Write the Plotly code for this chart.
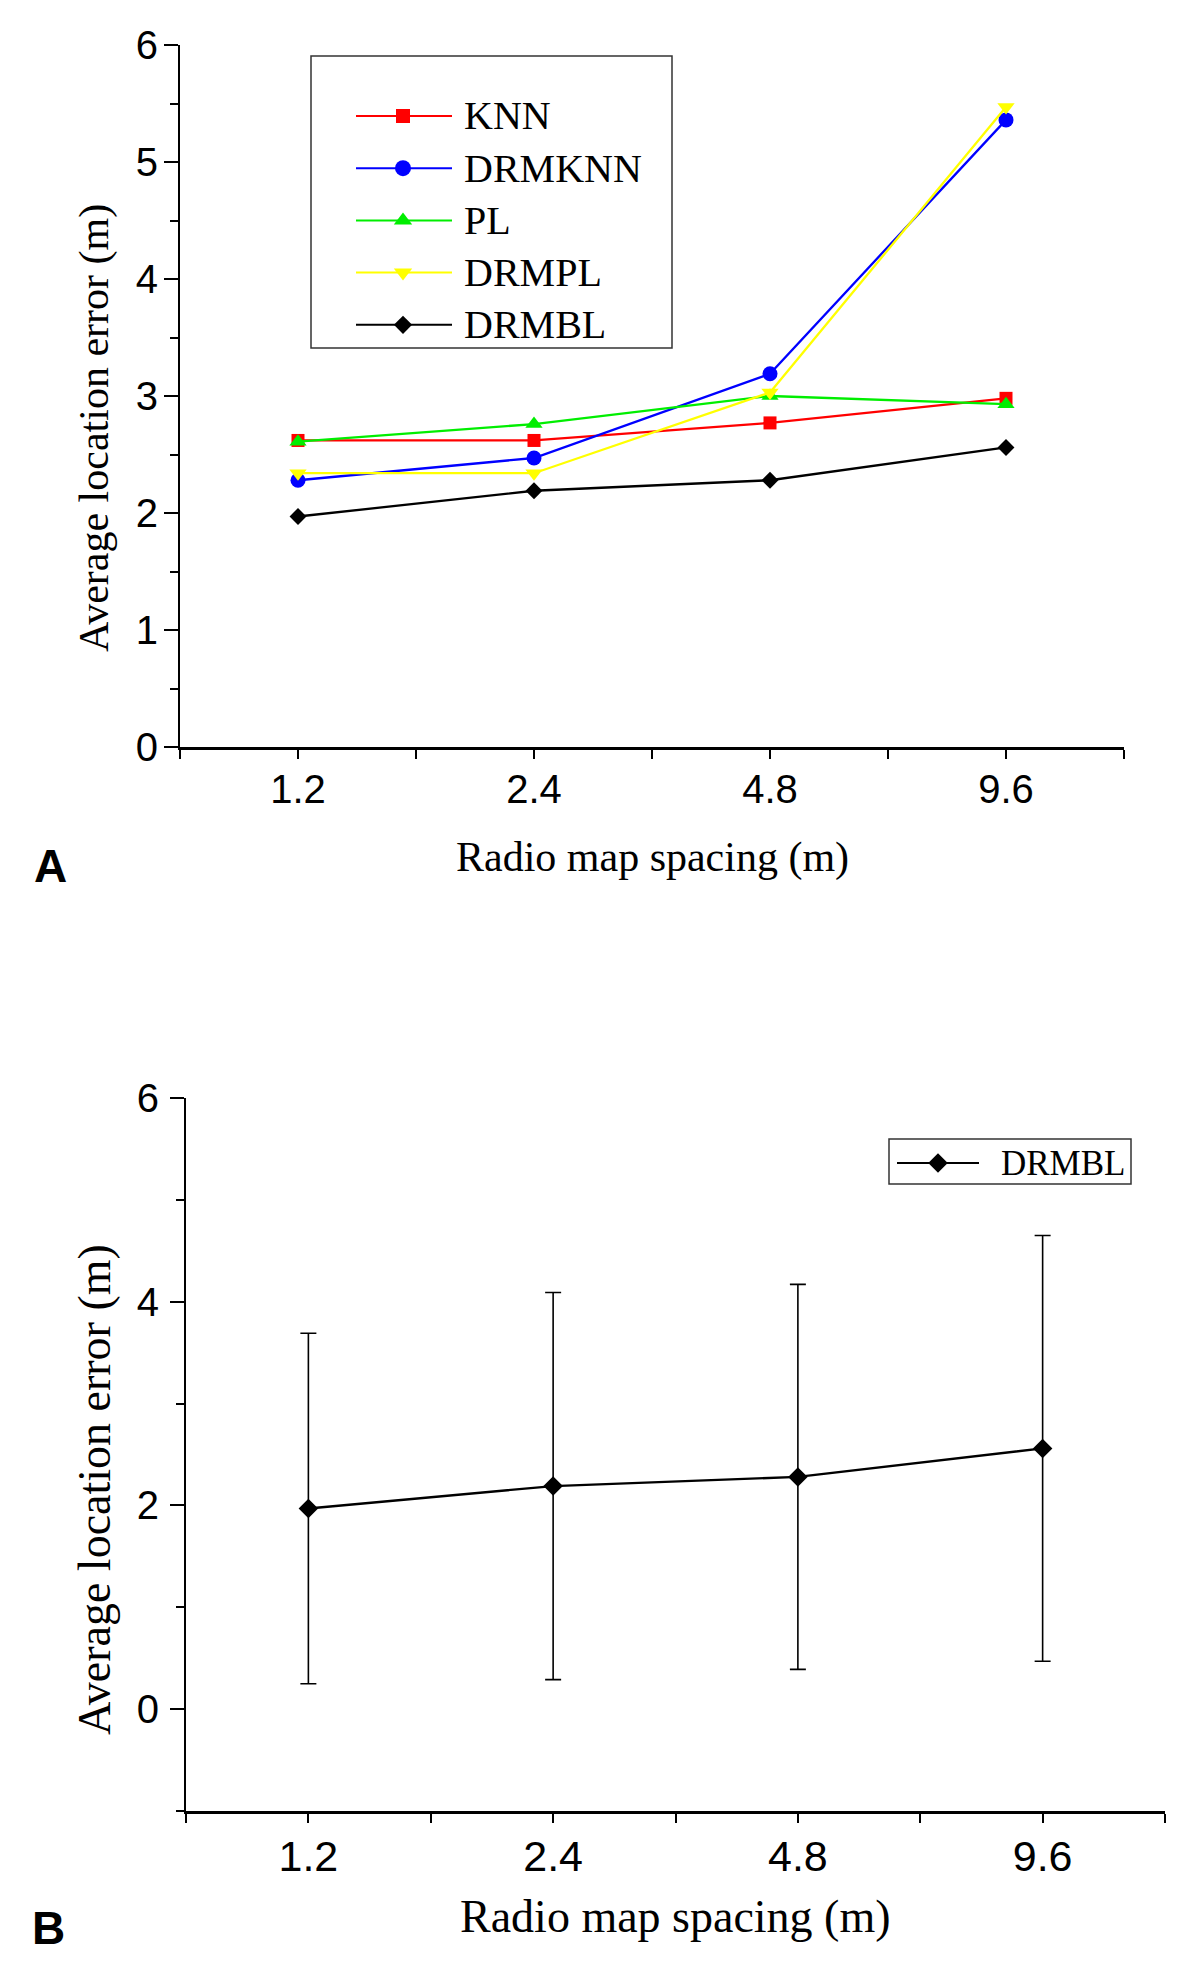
import plotly.graph_objects as go

# ---------------- data ----------------
categories = ["1.2", "2.4", "4.8", "9.6"]
series_names = ["KNN", "DRMKNN", "PL", "DRMPL", "DRMBL"]
knn = [2.62, 2.62, 2.77, 2.98]
drmknn = [2.28, 2.47, 3.19, 5.36]
pl = [2.61, 2.76, 3.00, 2.93]
drmpl = [2.34, 2.34, 3.03, 5.47]
drmbl = [1.97, 2.19, 2.28, 2.56]
drmbl_err = [1.72, 1.90, 1.89, 2.09]
y_ticks_a = [0, 1, 2, 3, 4, 5, 6]
y_ticks_b = [0, 2, 4, 6]

# ---------------- styles ----------------
colors = ["#FF0000", "#0000FF", "#00EE00", "#FFFF00", "#000000"]
symbols = ["square", "circle", "triangle-up", "triangle-down", "diamond"]
msizes = [13, 15, 15, 15, 13]

W, H = 1200, 1987
def px(x):
    return x / W
def py(y):
    return 1 - y / H

SERIF = "Liberation Serif, Times New Roman, serif"
SANS = "Liberation Sans, Arial, sans-serif"

xi = list(range(len(categories)))
values = [knn, drmknn, pl, drmpl, drmbl]

fig = go.Figure()
for name, vals, c, s, ms in zip(series_names, values, colors, symbols, msizes):
    fig.add_trace(go.Scatter(x=xi, y=vals, name=name, mode="lines+markers",
                             line=dict(color=c, width=2.3),
                             marker=dict(symbol=s, size=ms, color=c, line=dict(width=0)),
                             xaxis="x", yaxis="y", showlegend=False, cliponaxis=False))

fig.add_trace(go.Scatter(x=xi, y=drmbl, name="DRMBL", mode="lines+markers",
                         line=dict(color="black", width=2.3),
                         marker=dict(symbol="diamond", size=15, color="black"),
                         error_y=dict(type="data", array=drmbl_err, visible=True,
                                      color="black", thickness=1.6, width=8),
                         xaxis="x2", yaxis="y2", showlegend=False, cliponaxis=False))

def xaxis_style(domain, anchor, fsize):
    return dict(domain=domain, anchor=anchor, range=[-0.5, len(categories) - 0.5],
                tickvals=xi, ticktext=categories, showgrid=False, zeroline=False,
                showline=True, linewidth=3, linecolor="black", automargin=False,
                ticks="outside", ticklen=9, tickwidth=2, tickcolor="black",
                ticklabelstandoff=-4,
                minor=dict(tick0=0.5, dtick=1, ticks="outside", ticklen=9,
                           tickwidth=2, tickcolor="black"),
                tickfont=dict(family=SANS, size=fsize, color="black"))

def yaxis_style(domain, anchor, rng, tickvals, minor_dtick, fsize, standoff):
    return dict(domain=domain, anchor=anchor, range=rng, tickvals=tickvals,
                showgrid=False, zeroline=False, showline=True, linewidth=2,
                linecolor="black", ticks="outside", ticklen=14, tickwidth=2,
                tickcolor="black", ticklabelstandoff=standoff, automargin=False,
                minor=dict(tick0=0, dtick=minor_dtick, ticks="outside", ticklen=8,
                           tickwidth=2, tickcolor="black"),
                tickfont=dict(family=SANS, size=fsize, color="black"))

fig.update_layout(
    width=W, height=H, margin=dict(l=0, r=0, t=0, b=0, autoexpand=False),
    paper_bgcolor="white", plot_bgcolor="white", showlegend=False,
    xaxis=xaxis_style([px(180), px(1124)], "y", 40),
    yaxis=yaxis_style([py(747), py(45)], "x", [0, 6], y_ticks_a, 0.5, 40, -2),
    xaxis2=xaxis_style([px(186), px(1165)], "y2", 43),
    yaxis2=yaxis_style([py(1811), py(1098)], "x2", [-1, 6], y_ticks_b, 1, 40, 3),
)

ann = []
shapes = []
# axis titles and panel letters
ann.append(dict(text="Radio map spacing (m)", x=px(652), y=py(857), xref="paper", yref="paper",
                showarrow=False, xanchor="center", yanchor="middle",
                font=dict(family=SERIF, size=42, color="black")))
ann.append(dict(text="Average location error (m)", x=px(94), y=py(428), xref="paper", yref="paper",
                showarrow=False, xanchor="center", yanchor="middle", textangle=-90,
                font=dict(family=SERIF, size=42, color="black")))
ann.append(dict(text="Radio map spacing (m)", x=px(675), y=py(1916), xref="paper", yref="paper",
                showarrow=False, xanchor="center", yanchor="middle",
                font=dict(family=SERIF, size=46, color="black")))
ann.append(dict(text="Average location error (m)", x=px(94), y=py(1490), xref="paper", yref="paper",
                showarrow=False, xanchor="center", yanchor="middle", textangle=-90,
                font=dict(family=SERIF, size=46, color="black")))
ann.append(dict(text="<b>A</b>", x=px(50), y=py(866), xref="paper", yref="paper",
                showarrow=False, xanchor="center", yanchor="middle",
                font=dict(family=SANS, size=46, color="black")))
ann.append(dict(text="<b>B</b>", x=px(48), y=py(1928), xref="paper", yref="paper",
                showarrow=False, xanchor="center", yanchor="middle",
                font=dict(family=SANS, size=46, color="black")))

def marker_shape(symbol, cx, cy, size, color):
    base = dict(xref="paper", yref="paper", xsizemode="pixel", ysizemode="pixel",
                xanchor=cx, yanchor=cy, fillcolor=color, line=dict(width=0))
    r = size / 2
    if symbol == "circle":
        return dict(type="circle", x0=-r, x1=r, y0=-r, y1=r, **base)
    if symbol == "square":
        path = f"M{-r},{-r}L{r},{-r}L{r},{r}L{-r},{r}Z"
    elif symbol == "triangle-up":
        path = f"M{-1.15*r},{-0.5*r}L{1.15*r},{-0.5*r}L0,{r}Z"
    elif symbol == "triangle-down":
        path = f"M{-1.15*r},{0.5*r}L{1.15*r},{0.5*r}L0,{-r}Z"
    else:
        d = 1.3 * r
        path = f"M{-d},0L0,{d}L{d},0L0,{-d}Z"
    return dict(type="path", path=path, **base)

# legend A
shapes.append(dict(type="rect", xref="paper", yref="paper", x0=px(311), x1=px(672),
                   y0=py(348), y1=py(56), line=dict(color="#333333", width=1.5),
                   fillcolor="rgba(0,0,0,0)"))
for i, (name, c, s, ms) in enumerate(zip(series_names, colors, symbols, msizes)):
    yy = 116 + 52.2 * i
    shapes.append(dict(type="line", xref="paper", yref="paper", x0=px(356), x1=px(452),
                       y0=py(yy), y1=py(yy), line=dict(color=c, width=2)))
    shapes.append(marker_shape(s, px(403), py(yy), ms + 1, c))
    ann.append(dict(text=name, x=px(462), y=py(yy), xref="paper", yref="paper",
                    showarrow=False, xanchor="left", yanchor="middle",
                    font=dict(family=SERIF, size=40, color="black")))

# legend B
shapes.append(dict(type="rect", xref="paper", yref="paper", x0=px(889), x1=px(1131),
                   y0=py(1184), y1=py(1139), line=dict(color="#333333", width=1.5),
                   fillcolor="rgba(0,0,0,0)"))
shapes.append(dict(type="line", xref="paper", yref="paper", x0=px(897), x1=px(979),
                   y0=py(1163), y1=py(1163), line=dict(color="black", width=2)))
shapes.append(marker_shape("diamond", px(938), py(1163), 15, "black"))
ann.append(dict(text="DRMBL", x=px(999), y=py(1163), xref="paper", yref="paper",
                showarrow=False, xanchor="left", yanchor="middle",
                font=dict(family=SERIF, size=35, color="black")))

fig.update_layout(annotations=ann, shapes=shapes)
fig.write_html("out.html", config={"displayModeBar": False},
               post_script="document.body.style.margin='0px';")
